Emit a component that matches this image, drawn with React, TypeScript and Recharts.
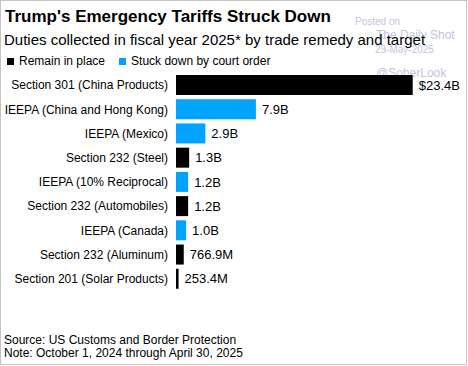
import React from 'react';
import { BarChart, Bar, XAxis, YAxis, Cell, LabelList } from 'recharts';

const categories = [
    'Section 301 (China Products)',
    'IEEPA (China and Hong Kong)',
    'IEEPA (Mexico)',
    'Section 232 (Steel)',
    'IEEPA (10% Reciprocal)',
    'Section 232 (Automobiles)',
    'IEEPA (Canada)',
    'Section 232 (Aluminum)',
    'Section 201 (Solar Products)',
];
const dutiesBillions = [23.4, 7.9, 2.9, 1.3, 1.2, 1.2, 1.0, 0.7669, 0.2534];
const valueLabels = ['$23.4B', '7.9B', '2.9B', '1.3B', '1.2B', '1.2B', '1.0B', '766.9M', '253.4M'];
const struckDown = [false, true, true, false, true, false, true, false, false];

const BLACK = '#000000';
const BLUE = '#00a3ff';
const FONT = '"Liberation Sans", Arial, sans-serif';

const rows = categories.map((name, i) => ({
    name,
    value: dutiesBillions[i],
    label: valueLabels[i],
    struck: struckDown[i],
}));

const watermark: React.CSSProperties = {
    position: 'absolute',
    color: '#c3c3e2',
    fontFamily: FONT,
    whiteSpace: 'nowrap',
    lineHeight: 1,
};

// single-line tick (recharts would wrap the long ones)
const CategoryTick = (props: any) => {
    const { x, y, payload } = props;
    return (
        <text x={x} y={y} dy="0.35em" textAnchor="end" fill="#000" fontSize={12} fontFamily={FONT}>
            {payload.value}
        </text>
    );
};

const App: React.FC = () => {
    return (
        <div style={{ position: 'absolute', left: 0, top: 0, width: 468, height: 366, background: '#fff', fontFamily: FONT }}>
            {/* frame */}
            <div style={{ position: 'absolute', left: 0, top: 0, width: 465, height: 363, border: '1px solid #c4c4c4' }} />

            {/* watermark */}
            <div style={{ ...watermark, left: 355, top: 17, fontSize: 10 }}>Posted on</div>
            <div style={{ ...watermark, left: 376, top: 29, fontSize: 12 }}>The Daily Shot</div>
            <div style={{ ...watermark, left: 375, top: 45, fontSize: 10 }}>29-May-2025</div>
            <div style={{ ...watermark, left: 376, top: 67, fontSize: 12 }}>@SoberLook</div>

            {/* header */}
            <div style={{ position: 'absolute', left: 5, top: 8, fontSize: 17, fontWeight: 700, color: '#000', whiteSpace: 'nowrap', lineHeight: 1 }}>
                Trump's Emergency Tariffs Struck Down
            </div>
            <div style={{ position: 'absolute', left: 4, top: 32, fontSize: 15, color: '#000', whiteSpace: 'nowrap', lineHeight: 1 }}>
                Duties collected in fiscal year 2025* by trade remedy and target
            </div>

            {/* legend */}
            <div style={{ position: 'absolute', left: 7, top: 55, display: 'flex', alignItems: 'center', fontSize: 12, lineHeight: 1, whiteSpace: 'nowrap' }}>
                <span style={{ width: 7, height: 7, background: BLACK, marginRight: 5 }} />
                <span style={{ marginRight: 14 }}>Remain in place</span>
                <span style={{ width: 7, height: 7, background: BLUE, marginRight: 5 }} />
                <span>Stuck down by court order</span>
            </div>

            {/* chart */}
            <div style={{ position: 'absolute', left: 0, top: 0 }}>
                <BarChart
                    width={468}
                    height={366}
                    data={rows}
                    layout="vertical"
                    margin={{ top: 73, right: 29, bottom: 75, left: 0 }}
                    barCategoryGap={4}
                >
                    <XAxis type="number" domain={[0, 26]} hide />
                    <YAxis
                        type="category"
                        dataKey="name"
                        width={176}
                        axisLine={false}
                        tickLine={false}
                        tickSize={0}
                        tickMargin={8}
                        interval={0}
                        tick={<CategoryTick />}
                    />
                    <Bar dataKey="value" barSize={20} isAnimationActive={false}>
                        {rows.map((r, i) => (
                            <Cell key={i} fill={r.struck ? BLUE : BLACK} />
                        ))}
                        <LabelList dataKey="label" position="right" offset={6} fill="#000" fontSize={13} fontFamily={FONT} />
                    </Bar>
                </BarChart>
            </div>

            {/* footer */}
            <div style={{ position: 'absolute', left: 4, top: 334, fontSize: 12, color: '#000', lineHeight: '13px', whiteSpace: 'nowrap' }}>
                Source: US Customs and Border Protection
                <br />
                Note: October 1, 2024 through April 30, 2025
            </div>
        </div>
    );
};

export default App;
